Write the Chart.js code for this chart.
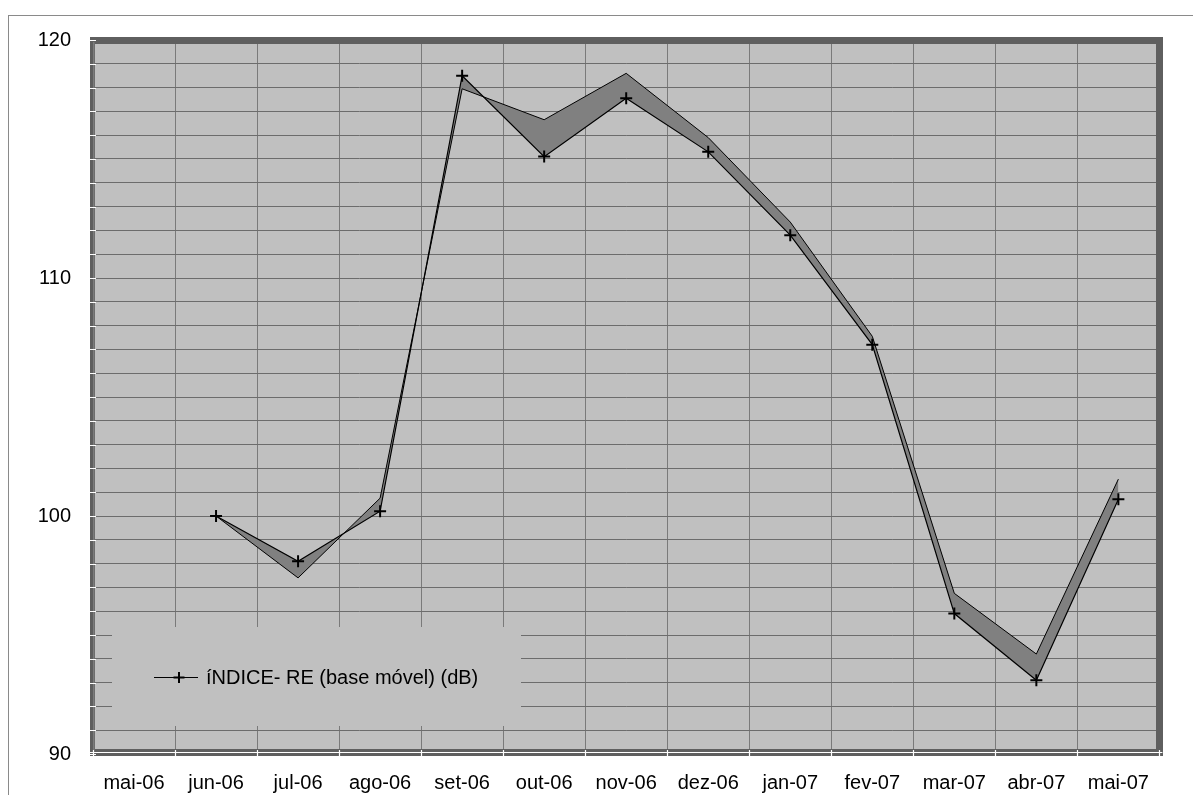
<!DOCTYPE html>
<html>
<head>
<meta charset="utf-8">
<script src="https://cdn.jsdelivr.net/npm/chart.js@4/dist/chart.umd.min.js"></script>
<style>
  html, body { margin: 0; padding: 0; background: #ffffff; }
  canvas { display: block; }
</style>
</head>
<body>
<canvas id="c" width="1193" height="795"></canvas>
<script>
// Monthly categories (first month has no reading)
const months = ['mai-06', 'jun-06', 'jul-06', 'ago-06', 'set-06', 'out-06', 'nov-06',
                'dez-06', 'jan-07', 'fev-07', 'mar-07', 'abr-07', 'mai-07'];

// Index RE, moving base (dB)
const indiceRE = [null, 100.0, 98.1, 100.2, 118.5, 115.1, 117.55, 115.3, 111.8, 107.2, 95.9, 93.1, 100.7];

// Far edge of the ribbon drawn behind the index line
const ribbonEdge = [null, 100.0, 97.4, 100.75, 117.95, 116.65, 118.6, 115.9, 112.35, 107.55, 96.75, 94.2, 101.55];

// Value axis labels shown (other unit steps keep only their grid line)
const yLabels = [90, 100, 110, 120];

const FONT = "'Liberation Sans', Arial, sans-serif";

const frame = {
  id: 'frame',
  beforeDraw(chart) {
    const { ctx, chartArea: a } = chart;
    ctx.save();
    ctx.fillStyle = '#ffffff';
    ctx.fillRect(0, 0, chart.width, chart.height);
    ctx.strokeStyle = '#8a8a8a';
    ctx.lineWidth = 1;
    ctx.strokeRect(8.5, 15.5, chart.width + 20, chart.height + 20);
    ctx.fillStyle = '#c0c0c0';
    ctx.fillRect(a.left, a.top, a.right - a.left, a.bottom - a.top);
    ctx.restore();
  },
  beforeDatasetsDraw(chart) {
    // legend box sits inside the plot, hiding the grid behind it
    const { ctx, chartArea: a } = chart;
    const ds = chart.data.datasets[0];
    const x0 = a.left + 19, y0 = 627, w = 409, h = 99;
    const cy = y0 + 50;
    ctx.save();
    ctx.fillStyle = '#c0c0c0';
    ctx.fillRect(x0, y0, w, h);
    ctx.strokeStyle = '#000000';
    ctx.lineWidth = 1;
    ctx.beginPath();
    ctx.moveTo(x0 + 42, cy + 0.5);
    ctx.lineTo(x0 + 86, cy + 0.5);
    ctx.stroke();
    ctx.lineWidth = 2;
    ctx.beginPath();
    ctx.moveTo(x0 + 67 - 5.5, cy + 0.5);
    ctx.lineTo(x0 + 67 + 5.5, cy + 0.5);
    ctx.moveTo(x0 + 67, cy - 5);
    ctx.lineTo(x0 + 67, cy + 6);
    ctx.stroke();
    ctx.fillStyle = '#000000';
    ctx.font = '20px ' + FONT;
    ctx.textBaseline = 'middle';
    ctx.textAlign = 'left';
    ctx.fillText(ds.label, x0 + 94, cy + 1);
    ctx.restore();
  },
  afterDraw(chart) {
    const { ctx, chartArea: a } = chart;
    const xs = chart.scales.x, ys = chart.scales.y;
    ctx.save();
    ctx.fillStyle = '#5f5f5f';
    // top, right, bottom and left walls
    ctx.fillRect(a.left - 2, a.top - 3, a.right - a.left + 5.6, 7);
    ctx.fillRect(a.right - 3.4, a.top - 3, 7, a.bottom - a.top + 5);
    ctx.fillRect(a.left - 3, a.bottom - 5, a.right - a.left + 6, 7);
    ctx.fillRect(a.left - 3, a.top - 3, 5, a.bottom - a.top + 5);
    ctx.fillStyle = '#7c7c7c';
    ctx.fillRect(a.left, a.top + 2, 1.5, a.bottom - a.top - 6);
    // white tick marks on the value axis
    ctx.strokeStyle = '#ffffff';
    ctx.lineWidth = 1.2;
    ctx.beginPath();
    for (let v = ys.min; v <= ys.max; v++) {
      const y = Math.round(ys.getPixelForValue(v)) + 0.5;
      ctx.moveTo(a.left - 3, y);
      ctx.lineTo(a.left + 3, y);
    }
    // white axis line and category tick marks along the bottom
    const by = a.bottom - 1.5;
    ctx.moveTo(a.left - 3, by);
    ctx.lineTo(a.right + 3, by);
    const half = (xs.getPixelForValue(1) - xs.getPixelForValue(0)) / 2;
    for (let i = 0; i <= months.length; i++) {
      const x = Math.round(xs.getPixelForValue(i) - half) + 0.5;
      ctx.moveTo(x, a.bottom - 4);
      ctx.lineTo(x, a.bottom + 3);
    }
    ctx.stroke();
    ctx.restore();
  }
};

new Chart(document.getElementById('c'), {
  type: 'line',
  data: {
    labels: months,
    datasets: [
      {
        label: 'íNDICE- RE (base móvel) (dB)',
        data: indiceRE,
        borderColor: '#000000',
        borderWidth: 1.2,
        pointStyle: 'cross',
        pointRadius: 6,
        pointBorderWidth: 2,
        pointBorderColor: '#000000',
        pointBackgroundColor: '#000000',
        tension: 0,
        fill: false
      },
      {
        label: 'ribbon',
        data: ribbonEdge,
        borderColor: '#000000',
        borderWidth: 1,
        pointRadius: 0,
        tension: 0,
        backgroundColor: '#808080',
        fill: { target: 0 }
      }
    ]
  },
  options: {
    responsive: false,
    animation: false,
    layout: { padding: { left: 0, top: 40, right: 33.6, bottom: 0 } },
    plugins: {
      legend: { display: false },
      tooltip: { enabled: false },
      filler: { propagate: false }
    },
    scales: {
      x: {
        type: 'category',
        offset: true,
        afterFit(s) { s.height = 41; },
        grid: { offset: true, color: '#7a7a7a', lineWidth: 1, drawTicks: false },
        border: { display: false },
        ticks: {
          autoSkip: false,
          maxRotation: 0,
          padding: 17,
          color: '#000000',
          font: { family: FONT, size: 20 }
        }
      },
      y: {
        min: 90,
        max: 120,
        afterFit(s) { s.width = 93; },
        grid: { color: '#6c6c6c', lineWidth: 1, drawTicks: false },
        border: { display: false },
        ticks: {
          stepSize: 1,
          maxTicksLimit: 40,
          autoSkip: false,
          padding: 22,
          color: '#000000',
          font: { family: FONT, size: 20 },
          callback: v => (yLabels.includes(v) ? String(v) : '')
        }
      }
    }
  },
  plugins: [frame]
});
</script>
</body>
</html>
